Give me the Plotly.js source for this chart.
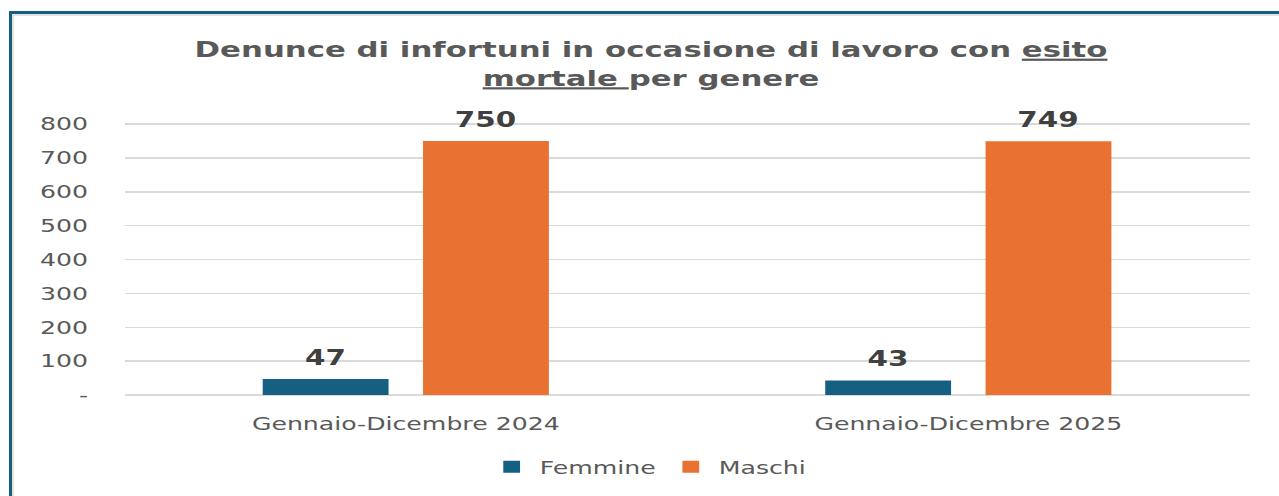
<!DOCTYPE html>
<html>
<head>
<meta charset="utf-8">
<script src="https://cdn.plot.ly/plotly-3.0.1.min.js"></script>
<style>
  html, body { margin: 0; padding: 0; background: #ffffff; overflow: hidden; }
  #wrap { position: absolute; left: 0; top: 0; width: 1279px; height: 496px; overflow: hidden; }
  #chart { position: absolute; left: 0; top: 0; width: 914px; height: 496px;
           transform: scaleX(1.3993); transform-origin: 0 0; }
  #frame { position: absolute; left: 9px; top: 11px; width: 1400px; height: 600px;
           border-top: 3px solid #156082; border-left: 3px solid #156082;
           box-shadow: inset 2px 2px 0 #e3e3e3; pointer-events: none; }
</style>
</head>
<body>
<div id="wrap">
  <div id="chart"></div>
  <div id="frame"></div>
</div>
<script>
// ---- data ----
const categories = ["Gennaio-Dicembre 2024", "Gennaio-Dicembre 2025"];
const seriesNames = ["Femmine", "Maschi"];
const femmine = [47, 43];
const maschi = [750, 749];
const yTickVals = [0, 100, 200, 300, 400, 500, 600, 700, 800];
const yTickText = ["-", "100", "200", "300", "400", "500", "600", "700", "800"];
const titleLine1 = "Denunce di infortuni in occasione di lavoro con <u>esito</u>";
const titleLine2 = "<u>mortale </u>per genere";

// ---- style ----
const colors = ["#156082", "#E97132"];
const font = "DejaVu Sans, Verdana, sans-serif";
const bargap = 0.43;
const series = [femmine, maschi];

const traces = series.map((vals, j) => ({
  type: "bar",
  name: seriesNames[j],
  x: categories,
  y: vals,
  marker: { color: colors[j] },
  hoverinfo: "none"
}));

// data labels placed above each bar through the axis scales
const annotations = [];
series.forEach((vals, j) => {
  vals.forEach((v, i) => {
    annotations.push({
      x: i + (j - 0.5) * (1 - bargap) / 2,
      y: v,
      xref: "x", yref: "y",
      text: String(v),
      showarrow: false,
      yanchor: "middle",
      yshift: 21,
      font: { family: font, size: 21, color: "#404040", weight: "bold" }
    });
  });
});

const layout = {
  width: 914,
  height: 496,
  paper_bgcolor: "#ffffff",
  plot_bgcolor: "#ffffff",
  margin: { l: 89, r: 21, t: 123, b: 100, pad: 0 },
  title: {
    text: titleLine1 + "<br>" + titleLine2,
    x: 0.509, xref: "container", xanchor: "center",
    y: 1 - 57 / 496, yref: "container", yanchor: "top",
    font: { family: font, size: 22, color: "#595959", weight: "bold" }
  },
  barmode: "group",
  bargap: bargap,
  bargroupgap: 0.215,
  xaxis: {
    type: "category",
    tickfont: { family: font, size: 18, color: "#595959" },
    showgrid: false,
    showline: false,
    ticks: "",
    ticklabelstandoff: 16,
    fixedrange: true
  },
  yaxis: {
    range: [0, 803],
    tickvals: yTickVals,
    ticktext: yTickText,
    tickfont: { family: font, size: 18, color: "#595959" },
    showgrid: true,
    gridcolor: "#d9d9d9",
    gridwidth: 1.5,
    zeroline: true,
    zerolinecolor: "#d9d9d9",
    zerolinewidth: 1.5,
    showline: false,
    ticks: "",
    ticklabelstandoff: 25,
    fixedrange: true
  },
  showlegend: true,
  legend: {
    orientation: "h",
    x: 0.466, xanchor: "center",
    y: -0.26, yanchor: "middle",
    font: { family: font, size: 18, color: "#595959" },
    itemclick: false, itemdoubleclick: false
  },
  annotations: annotations
};

Plotly.newPlot("chart", traces, layout, { displayModeBar: false, staticPlot: true });
</script>
</body>
</html>
